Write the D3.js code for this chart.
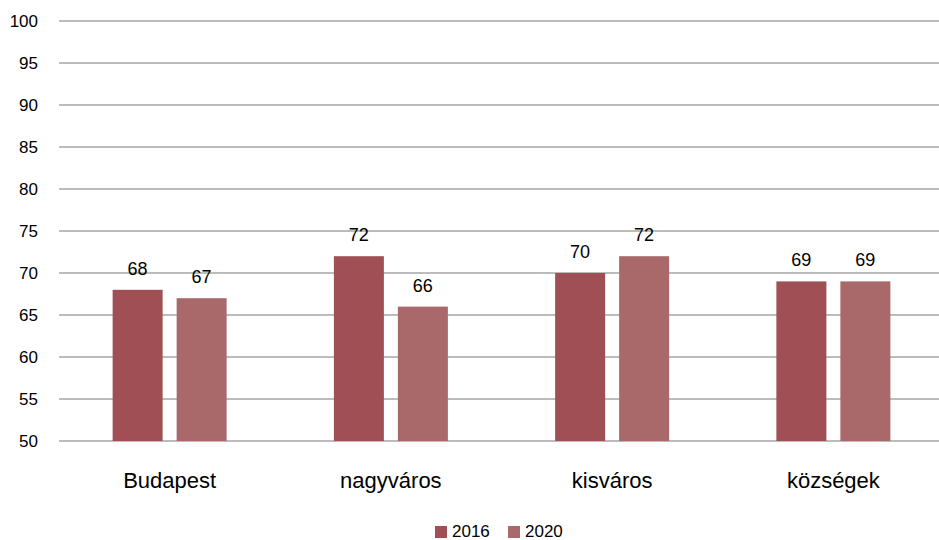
<!DOCTYPE html>
<html><head><meta charset="utf-8">
<script src="https://cdn.jsdelivr.net/npm/d3@7"></script>
<style>body{margin:0;background:#fff}svg{display:block}text{font-family:"Liberation Sans",Arial,sans-serif;fill:#000}</style>
</head><body><svg id="c" width="939" height="540"></svg>
<script>
const categories = ["Budapest","nagyváros","kisváros","községek"];
const seriesNames = ["2016","2020"];
const values2016 = [68,72,70,69];
const values2020 = [67,66,72,69];
const yTicks = [50,55,60,65,70,75,80,85,90,95,100];
const colors = ["#a04f55","#a9696b"];

(function(){
const svg = d3.select("#c");
const pLeft = 59, pRight = 944, pTop = 21, pBottom = 441;
const y = d3.scaleLinear().domain([50,100]).range([pBottom, pTop]);
const x0 = d3.scaleBand().domain(categories).range([pLeft, pRight]).paddingInner(0).paddingOuter(0);
const groupW = 114;
const x1 = d3.scaleBand().domain(seriesNames).range([0, groupW]).paddingInner(14/64).paddingOuter(0);

svg.append("g").selectAll("line").data(yTicks).join("line")
  .attr("x1", pLeft).attr("x2", 939)
  .attr("y1", d => y(d)).attr("y2", d => y(d))
  .attr("stroke", "#a6a6a6").attr("stroke-width", 1.5);

const yAxis = d3.axisLeft(y).tickValues(yTicks).tickSize(0).tickPadding(0);
const ga = svg.append("g").attr("transform", `translate(38,0)`).call(yAxis);
ga.select(".domain").remove();
ga.selectAll("text").attr("font-size", 17).attr("font-family", "Liberation Sans, Arial, sans-serif").attr("fill", "#000");

const data = categories.map((c,i) => ({c, vals:[{s:"2016", v:values2016[i]},{s:"2020", v:values2020[i]}]}));
const groups = svg.append("g").selectAll("g").data(data).join("g")
  .attr("transform", d => `translate(${x0(d.c) + (x0.bandwidth()-groupW)/2},0)`);
groups.selectAll("rect").data(d => d.vals).join("rect")
  .attr("x", d => x1(d.s)).attr("width", x1.bandwidth())
  .attr("y", d => y(d.v)).attr("height", d => y(50) - y(d.v))
  .attr("fill", (d,i) => colors[i]);
groups.selectAll("text.v").data(d => d.vals).join("text").attr("class","v")
  .attr("x", d => x1(d.s) + x1.bandwidth()/2).attr("y", d => y(d.v) - 15)
  .attr("text-anchor", "middle").attr("font-size", 18).text(d => d.v);

svg.append("g").selectAll("text").data(categories).join("text")
  .attr("x", d => x0(d) + x0.bandwidth()/2).attr("y", 488)
  .attr("text-anchor", "middle").attr("font-size", 22).text(d => d);

const leg = svg.append("g");
const legX = [435, 508];
seriesNames.forEach((s,i) => {
  leg.append("rect").attr("x", legX[i]).attr("y", 526).attr("width", 12).attr("height", 12).attr("fill", colors[i]);
  leg.append("text").attr("x", legX[i] + 17).attr("y", 537).attr("font-size", 17).text(s);
});
})();
</script></body></html>
